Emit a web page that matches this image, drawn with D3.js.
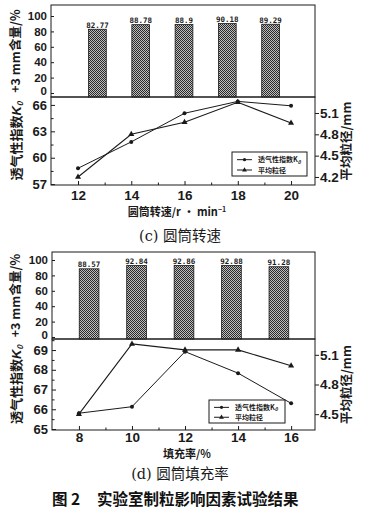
<!DOCTYPE html>
<html><head><meta charset="utf-8">
<script src="https://cdn.jsdelivr.net/npm/d3@7"></script>
<style>body{margin:0;background:#fff}svg{display:block}</style>
</head><body>
<script>
// ---- data ----
const catsC = [12, 14, 16, 18, 20];
const barC = [82.77, 88.78, 88.9, 90.18, 89.29];
const barLabelsC = ["82.77", "88.78", "88.9", "90.18", "89.29"];
const k0C = [58.8, 61.8, 65.05, 66.4, 65.9];
const sizeC = [4.2, 4.8, 4.97, 5.25, 4.96];

const catsD = [8, 10, 12, 14, 16];
const barD = [88.57, 92.84, 92.86, 92.88, 91.28];
const barLabelsD = ["88.57", "92.84", "92.86", "92.88", "91.28"];
const k0D = [65.8, 66.13, 68.92, 67.83, 66.3];
const sizeD = [4.5, 5.21, 5.15, 5.15, 4.99];

const barTicks = [0, 20, 40, 60, 80, 100];
const k0TicksC = [57, 60, 63, 66];
const sizeTicksC = [4.2, 4.5, 4.8, 5.1];
const k0TicksD = [65, 66, 67, 68, 69];
const sizeTicksD = [4.5, 4.8, 5.1];

const legendLabels = ["透气性指数K", "平均粒径"];

// ---- drawing ----
const W = 369, H = 513;
const svg = d3.select("body").append("svg").attr("width", W).attr("height", H)
  .style("font-family", "'Liberation Sans', Arial, 'Noto Sans CJK SC', sans-serif");

const defs = svg.append("defs");
const pat = defs.append("pattern").attr("id", "hatch").attr("patternUnits", "userSpaceOnUse")
  .attr("width", 2).attr("height", 2);
pat.append("rect").attr("width", 2).attr("height", 2).attr("fill", "#bdbdbd");
pat.append("rect").attr("width", 1).attr("height", 1).attr("fill", "#2a2a2a");
pat.append("rect").attr("x", 1).attr("y", 1).attr("width", 1).attr("height", 1).attr("fill", "#2a2a2a");

const INK = "#1a1a1a";

function panel(o) {
  const g = svg.append("g");
  // ---- bar chart ----
  const xb = d3.scaleBand().domain(o.cats).range(o.bandRange).padding(o.barPad);
  const yb = d3.scaleLinear().domain(o.barDomain).range([o.barBottom, o.barTop]);
  g.append("rect").attr("x", o.left).attr("y", o.barTop).attr("width", o.right - o.left)
    .attr("height", o.barBottom - o.barTop).attr("fill", "none").attr("stroke", INK).attr("stroke-width", 1);
  g.selectAll(".bar").data(o.bars).join("rect")
    .attr("x", (d, i) => xb(o.cats[i]))
    .attr("width", xb.bandwidth())
    .attr("y", d => yb(d))
    .attr("height", d => yb.range()[0] - yb(d))
    .attr("fill", "url(#hatch)").attr("stroke", INK).attr("stroke-width", 0.8);
  g.selectAll(".blab").data(o.barLabels).join("text")
    .attr("x", (d, i) => xb(o.cats[i]) + xb.bandwidth() / 2)
    .attr("y", (d, i) => yb(o.bars[i]) - 1.5)
    .attr("text-anchor", "middle").attr("font-size", "7.5px").attr("font-weight", "bold")
    .attr("font-family", "'DejaVu Sans Mono', monospace").attr("fill", INK).text(d => d);
  const ayb = d3.axisLeft(yb).tickValues(barTicks).tickSize(-3).tickPadding(4);
  const gab = g.append("g").attr("transform", `translate(${o.left},0)`).call(ayb);
  gab.select(".domain").remove();
  gab.selectAll("text").attr("font-size", "11.5px").attr("font-weight", "bold").attr("fill", INK)
    .attr("y", d => d === 0 ? -2 : 0);
  gab.selectAll("line").attr("stroke", INK);

  // ---- line chart ----
  const x = d3.scaleLinear().domain(o.xDomain).range([o.left, o.right]);
  const yl = d3.scaleLinear().domain(o.k0Domain).range([o.lineBottom, o.barBottom]);
  const yr = d3.scaleLinear().domain(o.sizeDomain).range([o.lineBottom, o.barBottom]);
  g.append("rect").attr("x", o.left).attr("y", o.barBottom).attr("width", o.right - o.left)
    .attr("height", o.lineBottom - o.barBottom).attr("fill", "none").attr("stroke", INK).attr("stroke-width", 1);

  const ax = d3.axisBottom(x).tickValues(o.cats).tickSize(-4).tickPadding(o.xPad).tickFormat(d3.format("d"));
  const gax = g.append("g").attr("transform", `translate(0,${o.lineBottom})`).call(ax);
  gax.select(".domain").remove();
  gax.selectAll("text").attr("font-size", "13.5px").attr("font-weight", "bold").attr("fill", INK);
  gax.selectAll("line").attr("stroke", INK);
  const minorX = o.cats.slice(0, -1).map(c => c + 1);
  g.append("g").attr("transform", `translate(0,${o.lineBottom})`)
    .call(d3.axisBottom(x).tickValues(minorX).tickSize(-2.5).tickFormat(""))
    .call(s => { s.select(".domain").remove(); s.selectAll("line").attr("stroke", INK); });

  const al = d3.axisLeft(yl).tickValues(o.k0Ticks).tickSize(-4).tickPadding(4).tickFormat(d3.format("d"));
  const gal = g.append("g").attr("transform", `translate(${o.left},0)`).call(al);
  gal.select(".domain").remove();
  gal.selectAll("text").attr("font-size", "13px").attr("font-weight", "bold").attr("fill", INK);
  gal.selectAll("line").attr("stroke", INK);
  const step = o.k0Ticks[1] - o.k0Ticks[0];
  const minorL = o.k0Ticks.map(t => t + step / 2).filter(t => t < o.k0Domain[1]);
  g.append("g").attr("transform", `translate(${o.left},0)`)
    .call(d3.axisLeft(yl).tickValues(minorL).tickSize(-2.5).tickFormat(""))
    .call(s => { s.select(".domain").remove(); s.selectAll("line").attr("stroke", INK); });

  const ar = d3.axisRight(yr).tickValues(o.sizeTicks).tickSize(4).tickPadding(1).tickFormat(d3.format(".1f"));
  const gar = g.append("g").attr("transform", `translate(${o.right},0)`).call(ar);
  gar.select(".domain").remove();
  gar.selectAll("text").attr("font-size", "13.5px").attr("font-weight", "bold").attr("fill", INK);
  gar.selectAll("line").attr("stroke", INK);

  const ptsK = o.cats.map((c, i) => [x(c), yl(o.k0[i])]);
  const ptsS = o.cats.map((c, i) => [x(c), yr(o.size[i])]);
  const line = d3.line();
  g.append("path").attr("d", line(ptsK)).attr("fill", "none").attr("stroke", INK).attr("stroke-width", 1);
  g.append("path").attr("d", line(ptsS)).attr("fill", "none").attr("stroke", INK).attr("stroke-width", 1.1);
  g.selectAll(".pk").data(ptsK).join("circle").attr("cx", d => d[0]).attr("cy", d => d[1])
    .attr("r", 2).attr("fill", INK);
  const tri = d3.symbol().type(d3.symbolTriangle).size(16);
  g.selectAll(".ps").data(ptsS).join("path").attr("d", tri)
    .attr("transform", d => `translate(${d[0]},${d[1]})`).attr("fill", INK);

  // legend
  const L = o.legend;
  const lg = g.append("g");
  lg.append("rect").attr("x", L.x).attr("y", L.y).attr("width", L.w).attr("height", L.h)
    .attr("fill", "#fff").attr("stroke", INK).attr("stroke-width", 1);
  const rows = [L.y + L.h * 0.32, L.y + L.h * 0.75];
  rows.forEach((ry, i) => {
    lg.append("line").attr("x1", L.x + 5).attr("x2", L.x + 20).attr("y1", ry).attr("y2", ry)
      .attr("stroke", INK).attr("stroke-width", 1);
    if (i === 0) lg.append("circle").attr("cx", L.x + 12.5).attr("cy", ry).attr("r", 1.6).attr("fill", INK);
    else lg.append("path").attr("d", d3.symbol().type(d3.symbolTriangle).size(10))
      .attr("transform", `translate(${L.x + 12.5},${ry})`).attr("fill", INK);
    const t = lg.append("text").attr("x", L.x + 26).attr("y", ry + 2.5).attr("font-size", "7px")
      .attr("font-weight", "bold").attr("fill", INK).attr("font-family", "'Noto Sans CJK SC', sans-serif")
      .text(legendLabels[i]);
    if (i === 0) t.append("tspan").attr("font-size", "5px").attr("dy", 1.5).attr("font-style", "italic").text("0");
  });

  // axis titles
  const cjk = "'Noto Sans CJK SC', 'Liberation Sans', sans-serif";
  g.append("text").attr("transform", `translate(${o.titleX},${(o.barTop + o.barBottom) / 2}) rotate(-90)`)
    .attr("text-anchor", "middle").attr("dy", "0.35em").attr("font-size", "12.5px").attr("font-weight", "bold")
    .attr("font-family", cjk).attr("fill", INK).text("+3 mm含量/%");
  const tl = g.append("text").attr("transform", `translate(${o.titleX},${(o.barBottom + o.lineBottom) / 2}) rotate(-90)`)
    .attr("text-anchor", "middle").attr("dy", "0.35em").attr("font-size", "13px").attr("font-weight", "bold")
    .attr("font-family", cjk).attr("fill", INK).text("透气性指数");
  tl.append("tspan").attr("font-style", "italic").attr("font-family", "'Liberation Sans', sans-serif").text("K");
  tl.append("tspan").attr("font-size", "8px").attr("dy", 2).attr("font-style", "italic").text("0");
  g.append("text").attr("transform", `translate(${o.rightTitleX},${(o.barBottom + o.lineBottom) / 2}) rotate(-90)`)
    .attr("text-anchor", "middle").attr("dy", "0.35em").attr("font-size", "12.5px").attr("font-weight", "bold")
    .attr("font-family", cjk).attr("fill", INK).text("平均粒径/mm");
  const xt = g.append("text").attr("x", o.xTitleX).attr("y", o.xTitleY).attr("text-anchor", "middle")
    .attr("font-size", "11px").attr("font-weight", "bold").attr("font-family", cjk).attr("fill", INK)
    .text(o.xTitle);
  if (o.xTitleSup) xt.append("tspan").attr("font-size", "7px").attr("dy", -4.5).text(o.xTitleSup);
  g.append("text").attr("x", 180).attr("y", o.captionY).attr("text-anchor", "middle")
    .attr("font-size", "14.5px").attr("font-family", "'DejaVu Serif', 'Noto Sans CJK SC', serif")
    .attr("fill", INK).text(o.caption);
}

panel({
  cats: catsC, bars: barC, barLabels: barLabelsC, k0: k0C, size: sizeC,
  k0Ticks: k0TicksC, sizeTicks: sizeTicksC,
  left: 51, right: 315, barTop: 5, barBottom: 97, lineBottom: 185, xPad: 5,
  bandRange: [63, 305], barPad: 0.59, barDomain: [-5.2, 114.3],
  xDomain: [10.985, 20.9], k0Domain: [56.9, 66.9], sizeDomain: [4.087, 5.325],
  legend: { x: 232, y: 152, w: 75, h: 24 },
  titleX: 16, rightTitleX: 347, xTitleX: 177, xTitleY: 216, xTitle: "圆筒转速/r · min", xTitleSup: "−1",
  captionY: 241, caption: "(c) 圆筒转速"
});
panel({
  cats: catsD, bars: barD, barLabels: barLabelsD, k0: k0D, size: sizeD,
  k0Ticks: k0TicksD, sizeTicks: sizeTicksD,
  left: 52, right: 315, barTop: 252, barBottom: 339, lineBottom: 430, xPad: 2,
  bandRange: [51.5, 316.5], barPad: 0.585, barDomain: [-2.6, 110.4],
  xDomain: [6.985, 16.9], k0Domain: [64.95, 69.56], sizeDomain: [4.34, 5.26],
  legend: { x: 209, y: 400, w: 76, h: 23 },
  titleX: 16, rightTitleX: 347, xTitleX: 187, xTitleY: 458, xTitle: "填充率/%", xTitleSup: null,
  captionY: 479, caption: "(d) 圆筒填充率"
});

const ft = svg.append("text").attr("y", 505)
  .attr("font-size", "15.5px").attr("font-weight", "bold")
  .attr("font-family", "'Noto Sans CJK SC', sans-serif").attr("fill", "#111");
ft.append("tspan").attr("x", 52).text("图");
ft.append("tspan").attr("x", 71).text("2");
ft.append("tspan").attr("x", 97).text("实验室制粒影响因素试验结果");
</script>
</body></html>
